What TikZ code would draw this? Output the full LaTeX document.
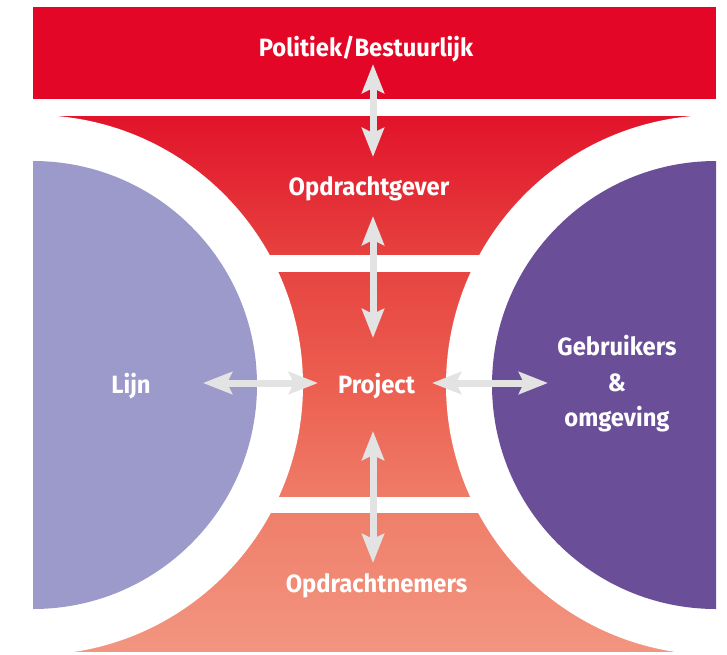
\documentclass[tikz,border=0pt]{standalone}
\usepackage{fontspec}
\setmainfont{Fira Sans}[FakeStretch=0.95]
\usetikzlibrary{arrows.meta}
\definecolor{topred}{HTML}{E30627}
\definecolor{lav}{HTML}{9C9ACB}
\definecolor{purp}{HTML}{6A4F98}
\definecolor{arrgray}{HTML}{E3E3E3}
\definecolor{fA}{HTML}{E2132A}
\definecolor{fB}{HTML}{E6413F}
\definecolor{fC}{HTML}{EC5E50}
\definecolor{fD}{HTML}{EF7D68}
\definecolor{fE}{HTML}{F29580}
\pgfdeclareverticalshading{funnel}{100bp}{%
  color(0bp)=(fE);
  color(25bp)=(fE);
  color(39bp)=(fD);
  color(50bp)=(fC);
  color(62bp)=(fB);
  color(75bp)=(fA);
  color(100bp)=(fA)}
\begin{document}
\begin{tikzpicture}[x=1pt,y=-1pt,
  lbl/.style={text=white,font=\fontsize{25}{28}\selectfont\bfseries,inner sep=0pt,anchor=base},
  tip/.tip={Stealth[length=29pt,width=22pt,inset=5pt]},
  dbl/.style={draw=arrgray,line width=7pt,tip-tip}]
\useasboundingbox (0,0) rectangle (727,654);
% top bar
\fill[topred] (33,7) rectangle (716,99);
% red funnel
\shade[shading=funnel] (33,116) rectangle (716,651);
\fill[white] (33,385) circle[radius=270];
\fill[white] (716,385) circle[radius=270];
\begin{scope}
  \clip (33,0) rectangle (716,654);
  \fill[lav] (33,385) circle[radius=224];
  \fill[purp] (716,385) circle[radius=224];
\end{scope}
% white stripes
\fill[white] (230,255) rectangle (520,272);
\fill[white] (230,497) rectangle (520,513);
% labels
\node[lbl] (pol) at (366,56) {Politiek/Bestuurlijk};
\node[lbl] (og) at (369,195) {Opdrachtgever};
\node[lbl] (proj) at (376.5,393) {Project};
\node[lbl] (lijn) at (131,393) {Lijn};
\node[lbl] (geb) at (617,355) {Gebruikers};
\node[lbl] (amp) at (617,391) {\&};
\node[lbl] (omg) at (617,426) {omgeving};
\node[lbl] (on) at (376.5,592) {Opdrachtnemers};
% arrow ends
\coordinate (v1a) at (373,64);
\coordinate (v1b) at (373,157);
\coordinate (v2a) at (373,216);
\coordinate (v2b) at (373,338);
\coordinate (v3a) at (373,431);
\coordinate (v3b) at (373,563);
\coordinate (h1a) at (203,383);
\coordinate (h1b) at (318,383);
\coordinate (h2a) at (432,383);
\coordinate (h2b) at (548,383);
\draw[dbl] (v1a) -- (v1b);
\draw[dbl] (v2a) -- (v2b);
\draw[dbl] (v3a) -- (v3b);
\draw[dbl] (h1a) -- (h1b);
\draw[dbl] (h2a) -- (h2b);
\end{tikzpicture}
\end{document}
